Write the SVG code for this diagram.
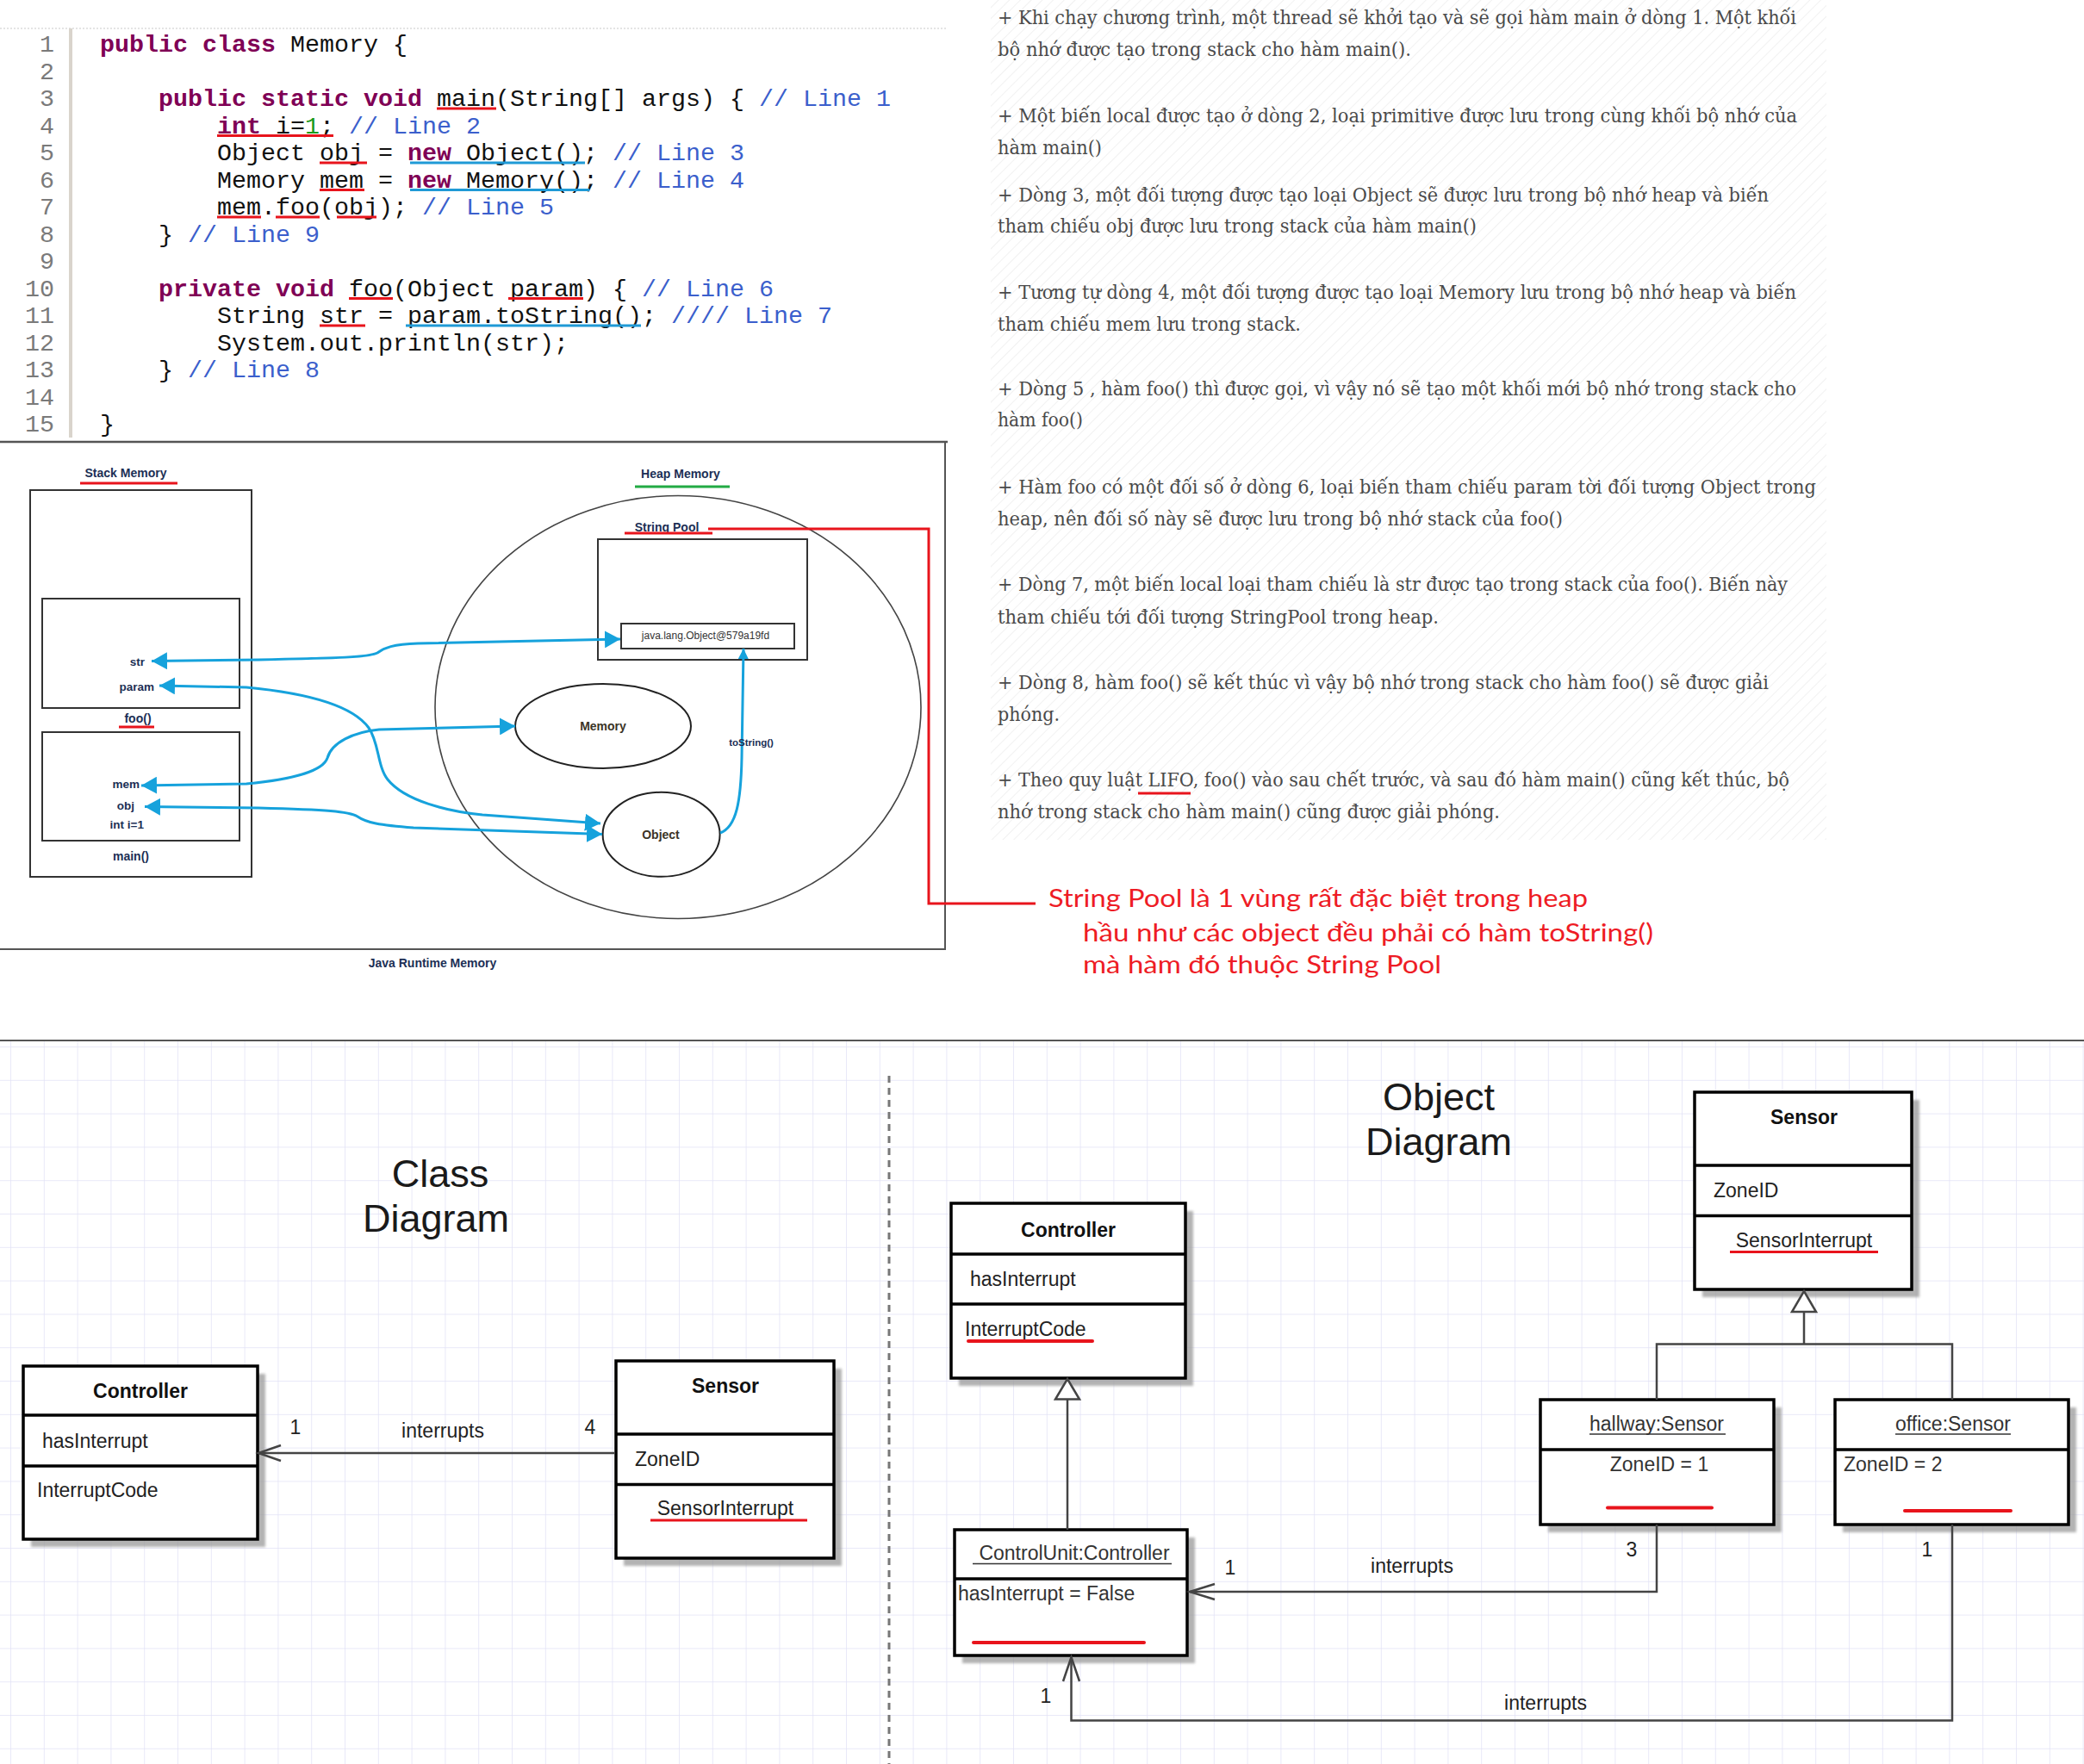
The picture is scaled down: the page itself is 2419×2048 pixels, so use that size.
<svg xmlns="http://www.w3.org/2000/svg" width="2419" height="2048" viewBox="0 0 2419 2048">
  <style>
    .code { font-family: "Liberation Mono", "DejaVu Sans Mono", monospace; font-size: 28.33px; fill: #111; }
    .kw { fill: #7f0055; font-weight: bold; }
    .cm { fill: #3b5fcc; }
    .num { fill: #1a9a1a; }
    .lnum { font-family: "Liberation Mono", monospace; font-size: 28.33px; fill: #7a7a7a; text-anchor: end; }
    .ul-red { stroke: #e8141c; stroke-width: 3; }
    .ul-blue { stroke: #1f9ad6; stroke-width: 3; }
    .para { font-family: "DejaVu Serif", "Liberation Serif", serif; font-size: 22px; fill: #4a4a4a; }
    .note { font-family: Lato, "Noto Sans", sans-serif; font-size: 28px; fill: #ee1c25; }
    .mlabel { font-family: "Liberation Sans", Arial, sans-serif; font-weight: bold; font-size: 14px; fill: #1c2f55; }
    .mvar { font-family: "Liberation Sans", Arial, sans-serif; font-weight: bold; font-size: 13.5px; fill: #1c2f55; text-anchor: end; }
    .mc { text-anchor: middle; }
    .frame { fill: none; stroke: #333; stroke-width: 2; }
    .oval { fill: none; stroke: #222; stroke-width: 2; }
    .ref { fill: none; stroke: #16a2dc; stroke-width: 3; }
    .uml { font-family: "Liberation Sans", Arial, sans-serif; font-size: 23px; fill: #222; }
    .uml-b { font-family: "Liberation Sans", Arial, sans-serif; font-size: 23px; font-weight: bold; fill: #111; text-anchor: middle; }
    .title { font-family: "Liberation Sans", Arial, sans-serif; font-size: 45px; fill: #1a1a1a; text-anchor: middle; }
    .box { fill: #fff; stroke: #000; stroke-width: 3.5; }
    .div { stroke: #000; stroke-width: 3.5; }
    .shadow { fill: #9a9a9a; opacity: 0.75; filter: url(#soft); }
    .assoc { fill: none; stroke: #444; stroke-width: 2.5; }
    .nameline { stroke: #333; stroke-width: 1.6; }
    .redmark { stroke: #e8141c; stroke-width: 4; stroke-linecap: round; }
  </style>
  <defs>
    <filter id="soft" x="-5%" y="-5%" width="110%" height="110%">
      <feGaussianBlur stdDeviation="1.5"/>
    </filter>
    <marker id="blueHead" viewBox="0 0 18 20" refX="18" refY="10" markerWidth="18" markerHeight="20" markerUnits="userSpaceOnUse" orient="auto-start-reverse">
      <path d="M0,0 L18,10 L0,20 z" fill="#16a2dc"/>
    </marker>
    <marker id="blueSmall" viewBox="0 0 12 12" refX="12" refY="6" markerWidth="12" markerHeight="12" markerUnits="userSpaceOnUse" orient="auto">
      <path d="M0,0 L12,6 L0,12 z" fill="#16a2dc"/>
    </marker>
    <pattern id="grid" x="12" y="1215" width="38.8" height="38.8" patternUnits="userSpaceOnUse">
      <path d="M38.8 0 L0 0 0 38.8" fill="none" stroke="#e2e2f6" stroke-width="1.5"/>
    </pattern>
    <pattern id="hatch" width="9" height="9" patternUnits="userSpaceOnUse" patternTransform="rotate(45)">
      <line x1="0" y1="0" x2="0" y2="9" stroke="#f1f1f1" stroke-width="2"/>
    </pattern>
  </defs>

  <!-- page background -->
  <rect x="0" y="0" width="2419" height="2048" fill="#fff"/>

  <!-- ===== source listing ===== -->
  <g id="code-listing">
    <line x1="0" y1="33" x2="1100" y2="33" stroke="#dcdcdc" stroke-width="1.5" stroke-dasharray="2 2"/>
    <line x1="82" y1="33" x2="82" y2="508" stroke="#d9d4cc" stroke-width="4"/>
    <line x1="0" y1="513" x2="1100" y2="513" stroke="#555" stroke-width="2.5"/>
    <g class="lnum">
      <text x="63" y="60">1</text>
      <text x="63" y="91.5">2</text>
      <text x="63" y="123">3</text>
      <text x="63" y="154.5">4</text>
      <text x="63" y="186">5</text>
      <text x="63" y="217.5">6</text>
      <text x="63" y="249">7</text>
      <text x="63" y="280.5">8</text>
      <text x="63" y="312">9</text>
      <text x="63" y="343.5">10</text>
      <text x="63" y="375">11</text>
      <text x="63" y="406.5">12</text>
      <text x="63" y="438">13</text>
      <text x="63" y="469.5">14</text>
      <text x="63" y="501">15</text>
    </g>
    <g class="code" xml:space="preserve">
      <text x="116" y="60"><tspan class="kw">public</tspan> <tspan class="kw">class</tspan> Memory {</text>
      <text x="184" y="123"><tspan class="kw">public</tspan> <tspan class="kw">static</tspan> <tspan class="kw">void</tspan> main(String[] args) { <tspan class="cm">// Line 1</tspan></text>
      <text x="252" y="154.5"><tspan class="kw">int</tspan> i=<tspan class="num">1</tspan>; <tspan class="cm">// Line 2</tspan></text>
      <text x="252" y="186">Object obj = <tspan class="kw">new</tspan> Object(); <tspan class="cm">// Line 3</tspan></text>
      <text x="252" y="217.5">Memory mem = <tspan class="kw">new</tspan> Memory(); <tspan class="cm">// Line 4</tspan></text>
      <text x="252" y="249">mem.foo(obj); <tspan class="cm">// Line 5</tspan></text>
      <text x="184" y="280.5">} <tspan class="cm">// Line 9</tspan></text>
      <text x="184" y="343.5"><tspan class="kw">private</tspan> <tspan class="kw">void</tspan> foo(Object param) { <tspan class="cm">// Line 6</tspan></text>
      <text x="252" y="375">String str = param.toString(); <tspan class="cm">//// Line 7</tspan></text>
      <text x="252" y="406.5">System.out.println(str);</text>
      <text x="184" y="438">} <tspan class="cm">// Line 8</tspan></text>
      <text x="116" y="501">}</text>
    </g>
    <!-- highlight marks under identifiers -->
    <g class="ul-red">
      <line x1="507" y1="126" x2="576" y2="126"/>
      <line x1="252" y1="157.5" x2="387" y2="157.5"/>
      <line x1="371" y1="189" x2="426" y2="189"/>
      <line x1="371" y1="220.5" x2="423" y2="220.5"/>
      <line x1="252" y1="252" x2="303" y2="252"/>
      <line x1="320" y1="252" x2="371" y2="252"/>
      <line x1="391" y1="252" x2="437" y2="252"/>
      <line x1="405" y1="346.5" x2="456" y2="346.5"/>
      <line x1="590" y1="346.5" x2="677" y2="346.5"/>
      <line x1="371" y1="378" x2="424" y2="378"/>
    </g>
    <g class="ul-blue">
      <line x1="476" y1="189" x2="679" y2="189"/>
      <line x1="476" y1="220.5" x2="684" y2="220.5"/>
      <line x1="471" y1="378" x2="744" y2="378"/>
    </g>
  </g>

  <!-- ===== explanation paragraphs ===== -->
  <g id="explanation">
    <rect x="1150" y="0" width="970" height="975" fill="url(#hatch)"/>
    <g class="para">
      <text x="1158" y="28" textLength="927" lengthAdjust="spacingAndGlyphs">+ Khi chạy chương trình, một thread sẽ khởi tạo và sẽ gọi hàm main ở dòng 1. Một khối</text>
      <text x="1158" y="65" textLength="480" lengthAdjust="spacingAndGlyphs">bộ nhớ được tạo trong stack cho hàm main().</text>
      <text x="1158" y="142" textLength="928" lengthAdjust="spacingAndGlyphs">+ Một biến local được tạo ở dòng 2, loại primitive được lưu trong cùng khối bộ nhớ của</text>
      <text x="1158" y="179" textLength="121" lengthAdjust="spacingAndGlyphs">hàm main()</text>
      <text x="1158" y="234" textLength="895" lengthAdjust="spacingAndGlyphs">+ Dòng 3, một đối tượng được tạo loại Object sẽ được lưu trong bộ nhớ heap và biến</text>
      <text x="1158" y="270" textLength="556" lengthAdjust="spacingAndGlyphs">tham chiếu obj được lưu trong stack của hàm main()</text>
      <text x="1158" y="347" textLength="927" lengthAdjust="spacingAndGlyphs">+ Tương tự dòng 4, một đối tượng được tạo loại Memory lưu trong bộ nhớ heap và biến</text>
      <text x="1158" y="384" textLength="352" lengthAdjust="spacingAndGlyphs">tham chiếu mem lưu trong stack.</text>
      <text x="1158" y="459" textLength="927" lengthAdjust="spacingAndGlyphs">+ Dòng 5 , hàm foo() thì được gọi, vì vậy nó sẽ tạo một khối mới bộ nhớ trong stack cho</text>
      <text x="1158" y="495" textLength="99" lengthAdjust="spacingAndGlyphs">hàm foo()</text>
      <text x="1158" y="573" textLength="950" lengthAdjust="spacingAndGlyphs">+ Hàm foo có một đối số ở dòng 6, loại biến tham chiếu param tời đối tượng Object trong</text>
      <text x="1158" y="610" textLength="656" lengthAdjust="spacingAndGlyphs">heap, nên đối số này sẽ được lưu trong bộ nhớ stack của foo()</text>
      <text x="1158" y="686" textLength="917" lengthAdjust="spacingAndGlyphs">+ Dòng 7, một biến local loại tham chiếu là str được tạo trong stack của foo(). Biến này</text>
      <text x="1158" y="724" textLength="512" lengthAdjust="spacingAndGlyphs">tham chiếu tới đối tượng StringPool trong heap.</text>
      <text x="1158" y="800" textLength="895" lengthAdjust="spacingAndGlyphs">+ Dòng 8, hàm foo() sẽ kết thúc vì vậy bộ nhớ trong stack cho hàm foo() sẽ được giải</text>
      <text x="1158" y="837" textLength="72" lengthAdjust="spacingAndGlyphs">phóng.</text>
      <text x="1158" y="913" textLength="919" lengthAdjust="spacingAndGlyphs">+ Theo quy luật LIFO, foo() vào sau chết trước, và sau đó hàm main() cũng kết thúc, bộ</text>
      <text x="1158" y="950" textLength="583" lengthAdjust="spacingAndGlyphs">nhớ trong stack cho hàm main() cũng được giải phóng.</text>
    </g>
    <line class="ul-red" x1="1321" y1="921" x2="1382" y2="921"/>
  </g>

  <!-- ===== runtime memory picture ===== -->
  <g id="runtime-frame">
    <path d="M0,513 H1097 V1102 H0" fill="none" stroke="#555" stroke-width="2"/>
    <text class="mlabel mc" x="502" y="1123">Java Runtime Memory</text>
  </g>

  <g id="stack-memory">
    <text class="mlabel mc" x="146" y="554">Stack Memory</text>
    <line class="ul-red" x1="93" y1="561" x2="206" y2="561"/>
    <rect class="frame" x="35" y="569" width="257" height="449"/>
  </g>
  <g id="frame-foo">
    <rect class="frame" x="49" y="695" width="229" height="127" stroke-width="1.8"/>
    <text class="mvar" x="168" y="773">str</text>
    <text class="mvar" x="179" y="802">param</text>
    <text class="mlabel mc" x="160" y="839">foo()</text>
    <line class="ul-red" x1="138" y1="844" x2="179" y2="844"/>
  </g>
  <g id="frame-main">
    <rect class="frame" x="49" y="850" width="229" height="126" stroke-width="1.8"/>
    <text class="mvar" x="162" y="915">mem</text>
    <text class="mvar" x="156" y="940">obj</text>
    <text class="mvar" x="167" y="962">int i=1</text>
    <text class="mlabel mc" x="152" y="999">main()</text>
  </g>

  <g id="heap-memory">
    <text class="mlabel mc" x="790" y="555">Heap Memory</text>
    <line x1="737" y1="565" x2="847" y2="565" stroke="#22aa44" stroke-width="3"/>
    <ellipse cx="787" cy="821" rx="282" ry="245.5" fill="none" stroke="#444" stroke-width="1.6"/>
  </g>
  <g id="string-pool">
    <text class="mlabel mc" x="774" y="617" font-size="13">String Pool</text>
    <line class="ul-red" x1="725" y1="619" x2="827" y2="619"/>
    <rect class="frame" x="694" y="626" width="243" height="140" stroke-width="2.4"/>
    <rect class="frame" x="721" y="724" width="201" height="29"/>
    <text x="819" y="742" font-family="Liberation Sans, Arial, sans-serif" font-size="12px" fill="#333" text-anchor="middle">java.lang.Object@579a19fd</text>
  </g>
  <g id="heap-memory-object">
    <ellipse class="oval" cx="700" cy="843" rx="102" ry="49"/>
    <text class="mlabel mc" x="700" y="848" style="fill:#3b3426">Memory</text>
  </g>
  <g id="heap-object">
    <ellipse class="oval" cx="767.6" cy="968.8" rx="68" ry="49"/>
    <text class="mlabel mc" x="767" y="974" style="fill:#3b3426">Object</text>
  </g>

  <g id="memory-references">
    <path class="ref" marker-start="url(#blueHead)" marker-end="url(#blueHead)" d="M176,767.5 L300,766 C395,764 428,763 438,758 C446,752 456,748 485,747 L720,742"/>
    <path class="ref" marker-start="url(#blueHead)" marker-end="url(#blueHead)" d="M185,796 L286,798 C360,805 410,820 428,845 C440,862 438,890 450,905 C470,930 520,942 560,946 L697,956"/>
    <path class="ref" marker-start="url(#blueHead)" marker-end="url(#blueHead)" d="M164,912 L286,910 C340,905 375,895 380,880 C385,862 410,850 440,847 L598,843"/>
    <path class="ref" marker-start="url(#blueHead)" marker-end="url(#blueHead)" d="M168,936.6 L300,938 C380,940 405,942 415,948 C425,955 440,958 480,961 L699,968.5"/>
    <path class="ref" stroke-width="2.5" marker-end="url(#blueSmall)" d="M836,967 C855,960 860,930 861,880 L863,753"/>
    <text x="872" y="866" font-family="Liberation Sans, Arial, sans-serif" font-size="11.5px" font-weight="bold" fill="#1c2f55" text-anchor="middle">toString()</text>
  </g>

  <!-- string pool note -->
  <g id="string-pool-note">
    <path d="M822,614 H1078 V1049 H1202" fill="none" stroke="#e8141c" stroke-width="3"/>
    <text class="note" x="1217" y="1053" textLength="626" lengthAdjust="spacingAndGlyphs">String Pool là 1 vùng rất đặc biệt trong heap</text>
    <text class="note" x="1257" y="1093" textLength="662" lengthAdjust="spacingAndGlyphs">hầu như các object đều phải có hàm toString()</text>
    <text class="note" x="1257" y="1130" textLength="416" lengthAdjust="spacingAndGlyphs">mà hàm đó thuộc String Pool</text>
  </g>

  <!-- ===== UML canvas ===== -->
  <g id="uml-canvas">
    <rect x="0" y="1209" width="2419" height="839" fill="url(#grid)"/>
    <line x1="0" y1="1208" x2="2419" y2="1208" stroke="#555" stroke-width="2"/>
    <line x1="1032" y1="1249" x2="1032" y2="2048" stroke="#777" stroke-width="3" stroke-dasharray="8 6"/>
    <text class="title" x="511" y="1378">Class</text>
    <text class="title" x="506" y="1430">Diagram</text>
    <text class="title" x="1670" y="1289">Object</text>
    <text class="title" x="1670" y="1341">Diagram</text>
  </g>

  <!-- class diagram -->
  <g id="cls-controller">
    <rect class="shadow" x="36" y="1595" width="272" height="201"/>
    <rect class="box" x="27" y="1586" width="272" height="201"/>
    <line class="div" x1="27" y1="1643" x2="299" y2="1643"/>
    <line class="div" x1="27" y1="1702" x2="299" y2="1702"/>
    <text class="uml-b" x="163" y="1623">Controller</text>
    <text class="uml" x="49" y="1681">hasInterrupt</text>
    <text class="uml" x="43" y="1738">InterruptCode</text>
  </g>
  <g id="cls-sensor">
    <rect class="shadow" x="724" y="1589" width="253" height="229"/>
    <rect class="box" x="715" y="1580" width="253" height="229"/>
    <line class="div" x1="715" y1="1665" x2="968" y2="1665"/>
    <line class="div" x1="715" y1="1723.5" x2="968" y2="1723.5"/>
    <text class="uml-b" x="842" y="1617">Sensor</text>
    <text class="uml" x="737" y="1702">ZoneID</text>
    <text class="uml" x="842" y="1759" text-anchor="middle">SensorInterrupt</text>
    <line class="ul-red" x1="755" y1="1765" x2="937" y2="1765"/>
  </g>

  <!-- object diagram -->
  <g id="obj-controller-class">
    <rect class="shadow" x="1113" y="1406" width="272" height="203"/>
    <rect class="box" x="1104" y="1397" width="272" height="203"/>
    <line class="div" x1="1104" y1="1456" x2="1376" y2="1456"/>
    <line class="div" x1="1104" y1="1514" x2="1376" y2="1514"/>
    <text class="uml-b" x="1240" y="1436">Controller</text>
    <text class="uml" x="1126" y="1493">hasInterrupt</text>
    <text class="uml" x="1120" y="1551">InterruptCode</text>
    <line class="redmark" x1="1124" y1="1557" x2="1268" y2="1557"/>
  </g>
  <g id="obj-sensor-class">
    <rect class="shadow" x="1976" y="1277" width="252" height="229"/>
    <rect class="box" x="1967" y="1268" width="252" height="229"/>
    <line class="div" x1="1967" y1="1353" x2="2219" y2="1353"/>
    <line class="div" x1="1967" y1="1411.5" x2="2219" y2="1411.5"/>
    <text class="uml-b" x="2094" y="1305">Sensor</text>
    <text class="uml" x="1989" y="1390">ZoneID</text>
    <text class="uml" x="2094" y="1448" text-anchor="middle">SensorInterrupt</text>
    <line class="ul-red" x1="2008" y1="1453.5" x2="2180" y2="1453.5"/>
  </g>
  <g id="obj-control-unit">
    <rect class="shadow" x="1117" y="1785" width="270" height="146"/>
    <rect class="box" x="1108" y="1776" width="270" height="146"/>
    <line class="div" x1="1108" y1="1833" x2="1378" y2="1833"/>
    <text class="uml" x="1247" y="1811" text-anchor="middle" style="fill:#333">ControlUnit:Controller</text>
    <line class="nameline" x1="1129" y1="1815.5" x2="1360" y2="1815.5"/>
    <text class="uml" x="1112" y="1858" style="fill:#333">hasInterrupt = False</text>
    <line class="redmark" x1="1130" y1="1907" x2="1328" y2="1907"/>
  </g>
  <g id="obj-hallway-sensor">
    <rect class="shadow" x="1797" y="1634" width="271" height="145"/>
    <rect class="box" x="1788" y="1625" width="271" height="145"/>
    <line class="div" x1="1788" y1="1683" x2="2059" y2="1683"/>
    <text class="uml" x="1923" y="1661" text-anchor="middle" style="fill:#333">hallway:Sensor</text>
    <line class="nameline" x1="1845" y1="1665" x2="2003" y2="1665"/>
    <text class="uml" x="1926" y="1708" text-anchor="middle" style="fill:#333">ZoneID = 1</text>
    <line class="redmark" x1="1866" y1="1750.5" x2="1987" y2="1750.5"/>
  </g>
  <g id="obj-office-sensor">
    <rect class="shadow" x="2139" y="1634" width="271" height="145"/>
    <rect class="box" x="2130" y="1625" width="271" height="145"/>
    <line class="div" x1="2130" y1="1683" x2="2401" y2="1683"/>
    <text class="uml" x="2267" y="1661" text-anchor="middle" style="fill:#333">office:Sensor</text>
    <line class="nameline" x1="2200" y1="1665" x2="2334" y2="1665"/>
    <text class="uml" x="2140" y="1708" style="fill:#333">ZoneID = 2</text>
    <line class="redmark" x1="2211" y1="1754" x2="2334" y2="1754"/>
  </g>

  <!-- UML connectors -->
  <g id="uml-connectors">
    <!-- class diagram association -->
    <line class="assoc" x1="714" y1="1687" x2="300" y2="1687"/>
    <polyline class="assoc" points="326,1678 300,1687 326,1696"/>
    <text class="uml" x="343" y="1665" text-anchor="middle" font-size="21px">1</text>
    <text class="uml" x="514" y="1669" text-anchor="middle" font-size="21px">interrupts</text>
    <text class="uml" x="685" y="1665" text-anchor="middle" font-size="21px">4</text>

    <!-- generalization: ControlUnit to Controller -->
    <line class="assoc" x1="1239" y1="1624.5" x2="1239" y2="1776"/>
    <polygon points="1239,1601 1253,1624.5 1225,1624.5" fill="#fff" stroke="#444" stroke-width="2.5"/>

    <!-- generalization: sensors to Sensor -->
    <path class="assoc" d="M2094,1523 V1560.5 M1923,1625 V1560.5 H2266 V1625"/>
    <polygon points="2094,1499 2108,1523 2080,1523" fill="#fff" stroke="#444" stroke-width="2.5"/>

    <!-- hallway interrupts ControlUnit -->
    <path class="assoc" d="M1923,1770 V1848 H1381"/>
    <polyline class="assoc" points="1410,1839 1381,1848 1410,1857"/>
    <text class="uml" x="1894" y="1807" text-anchor="middle" font-size="21px">3</text>
    <text class="uml" x="1428" y="1828" text-anchor="middle" font-size="21px">1</text>
    <text class="uml" x="1639" y="1826" text-anchor="middle" font-size="21px">interrupts</text>

    <!-- office interrupts ControlUnit -->
    <path class="assoc" d="M2266,1770 V1997.5 H1243.5 V1924"/>
    <polyline class="assoc" points="1234,1952 1243.5,1924 1253,1952"/>
    <text class="uml" x="2237" y="1807" text-anchor="middle" font-size="21px">1</text>
    <text class="uml" x="1214" y="1977" text-anchor="middle" font-size="21px">1</text>
    <text class="uml" x="1794" y="1985" text-anchor="middle" font-size="21px">interrupts</text>
  </g>
</svg>
